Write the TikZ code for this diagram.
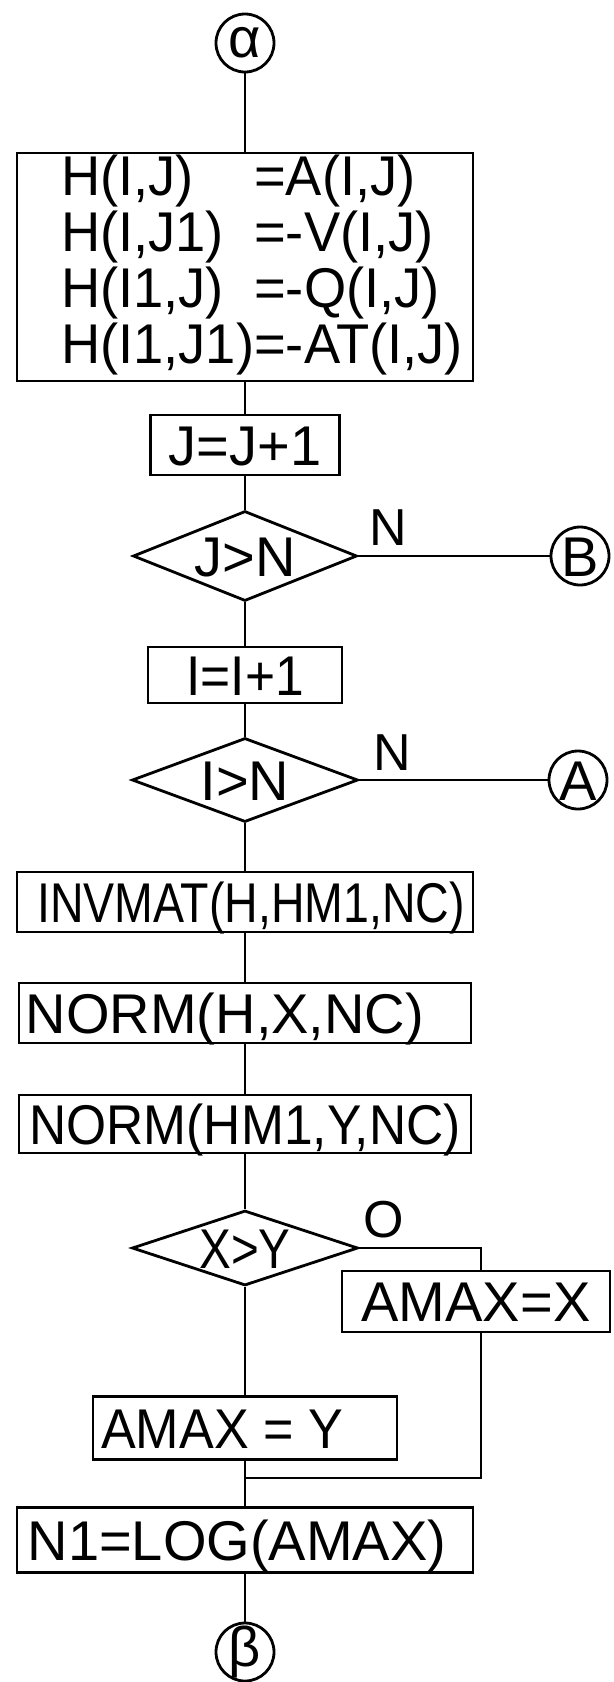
\documentclass[tikz,border=0pt]{standalone}
\usepackage{fontspec}
\setmainfont{Liberation Sans}
\usepackage{graphicx}
\usetikzlibrary{shapes.geometric}
\newcommand\ctr[2][0pt]{\makebox[0pt]{\hspace*{#1}\raisebox{-0.36em}[0pt][0pt]{#2}\hspace*{-#1}}}
\newcommand\sx[2]{\scalebox{#1}[1]{#2}}
\begin{document}
\begin{tikzpicture}[x=0.5pt,y=-0.5pt,
  every node/.style={line width=1.4pt, inner sep=0pt, font=\fontsize{28}{25.5}\selectfont},
  box/.style={draw, rectangle},
  cond/.style={draw, diamond},
  term/.style={draw, circle, minimum size=29pt},
  conn/.style={draw, line width=1.4pt},
  lbl/.style={font=\fontsize{26}{26}\selectfont}]
\path[use as bounding box, fill=white] (0,0) rectangle (614,1682);

\node[term] (alpha) at (245,43) {\ctr{\raisebox{0.1em}{α}}};
\node[box, minimum width=228pt, minimum height=114pt] (main) at (245,267)
  {\hspace*{17pt}\sx{0.97}{\begin{tabular}{@{}l@{}l@{}}H(I,J)&=A(I,J)\\H(I,J1)&=-V(I,J)\\H(I1,J)&=-Q(I,J)\\H(I1,J1)&=-AT(I,J)\end{tabular}}};
\node[box, minimum width=94.5pt, minimum height=30pt] (j1) at (245,445) {\ctr{J=J+1}};
\node[cond, minimum width=112pt, minimum height=45pt] (d1) at (245,556) {\ctr{J>N}};
\node[lbl] (nl1) at (388,528) {N};
\node[term] (B) at (580,556) {\ctr{B}};
\node[box, minimum width=97pt, minimum height=28pt] (i1) at (245,675) {\ctr{\sx{0.92}{I=I+1}}};
\node[cond, minimum width=113pt, minimum height=42pt] (d2) at (245,780) {\ctr{I>N}};
\node[lbl] (nl2) at (392,753) {N};
\node[term] (A) at (578,780) {\ctr{A}};
\node[box, minimum width=228pt, minimum height=30pt] (inv) at (245,902) {\ctr[3pt]{\sx{0.83}{INVMAT(H,HM1,NC)}}};
\node[box, minimum width=226pt, minimum height=30pt] (nm1) at (245,1013) {\ctr[-10pt]{NORM(H,X,NC)}};
\node[box, minimum width=226pt, minimum height=29pt] (nm2) at (245,1124) {\ctr{\sx{0.92}{NORM(HM1,Y,NC)}}};
\node[cond, minimum width=113pt, minimum height=37.5pt] (d3) at (245,1248) {\ctr{\sx{0.85}{X>Y}}};
\node[lbl] (ol) at (384,1220) {O};
\coordinate (c1) at (481,1248);
\node[box, minimum width=134pt, minimum height=30.5pt] (ax) at (476,1301.5) {\ctr{AMAX=X}};
\node[box, minimum width=152pt, minimum height=31.5pt] (ay) at (245,1428) {\ctr[-11.5pt]{\sx{0.93}{AMAX = Y}}};
\coordinate (jn) at (245,1478);
\coordinate (c2) at (481,1478);
\node[box, minimum width=228pt, minimum height=32.5pt] (n1) at (245,1540) {\ctr[-4pt]{N1=LOG(AMAX)}};
\node[term] (beta) at (245,1652) {\ctr{\raisebox{0.1em}{β}}};

\draw[conn] (alpha) -- (main);
\draw[conn] (main) -- (j1);
\draw[conn] (j1) -- (d1);
\draw[conn] (d1.east) -- (B);
\draw[conn] (d1) -- (i1);
\draw[conn] (i1) -- (d2);
\draw[conn] (d2.east) -- (A);
\draw[conn] (d2) -- (inv);
\draw[conn] (inv) -- (nm1);
\draw[conn] (nm1) -- (nm2);
\draw[conn] (nm2) -- (d3);
\draw[conn] (d3.east) -- (c1) -- (c1 |- ax.north);
\draw[conn] (c1 |- ax.south) -- (c2) -- (jn);
\draw[conn] (d3) -- (ay);
\draw[conn] (ay.south) -- (jn) -- (n1.north);
\draw[conn] (n1) -- (beta);
\end{tikzpicture}
\end{document}
